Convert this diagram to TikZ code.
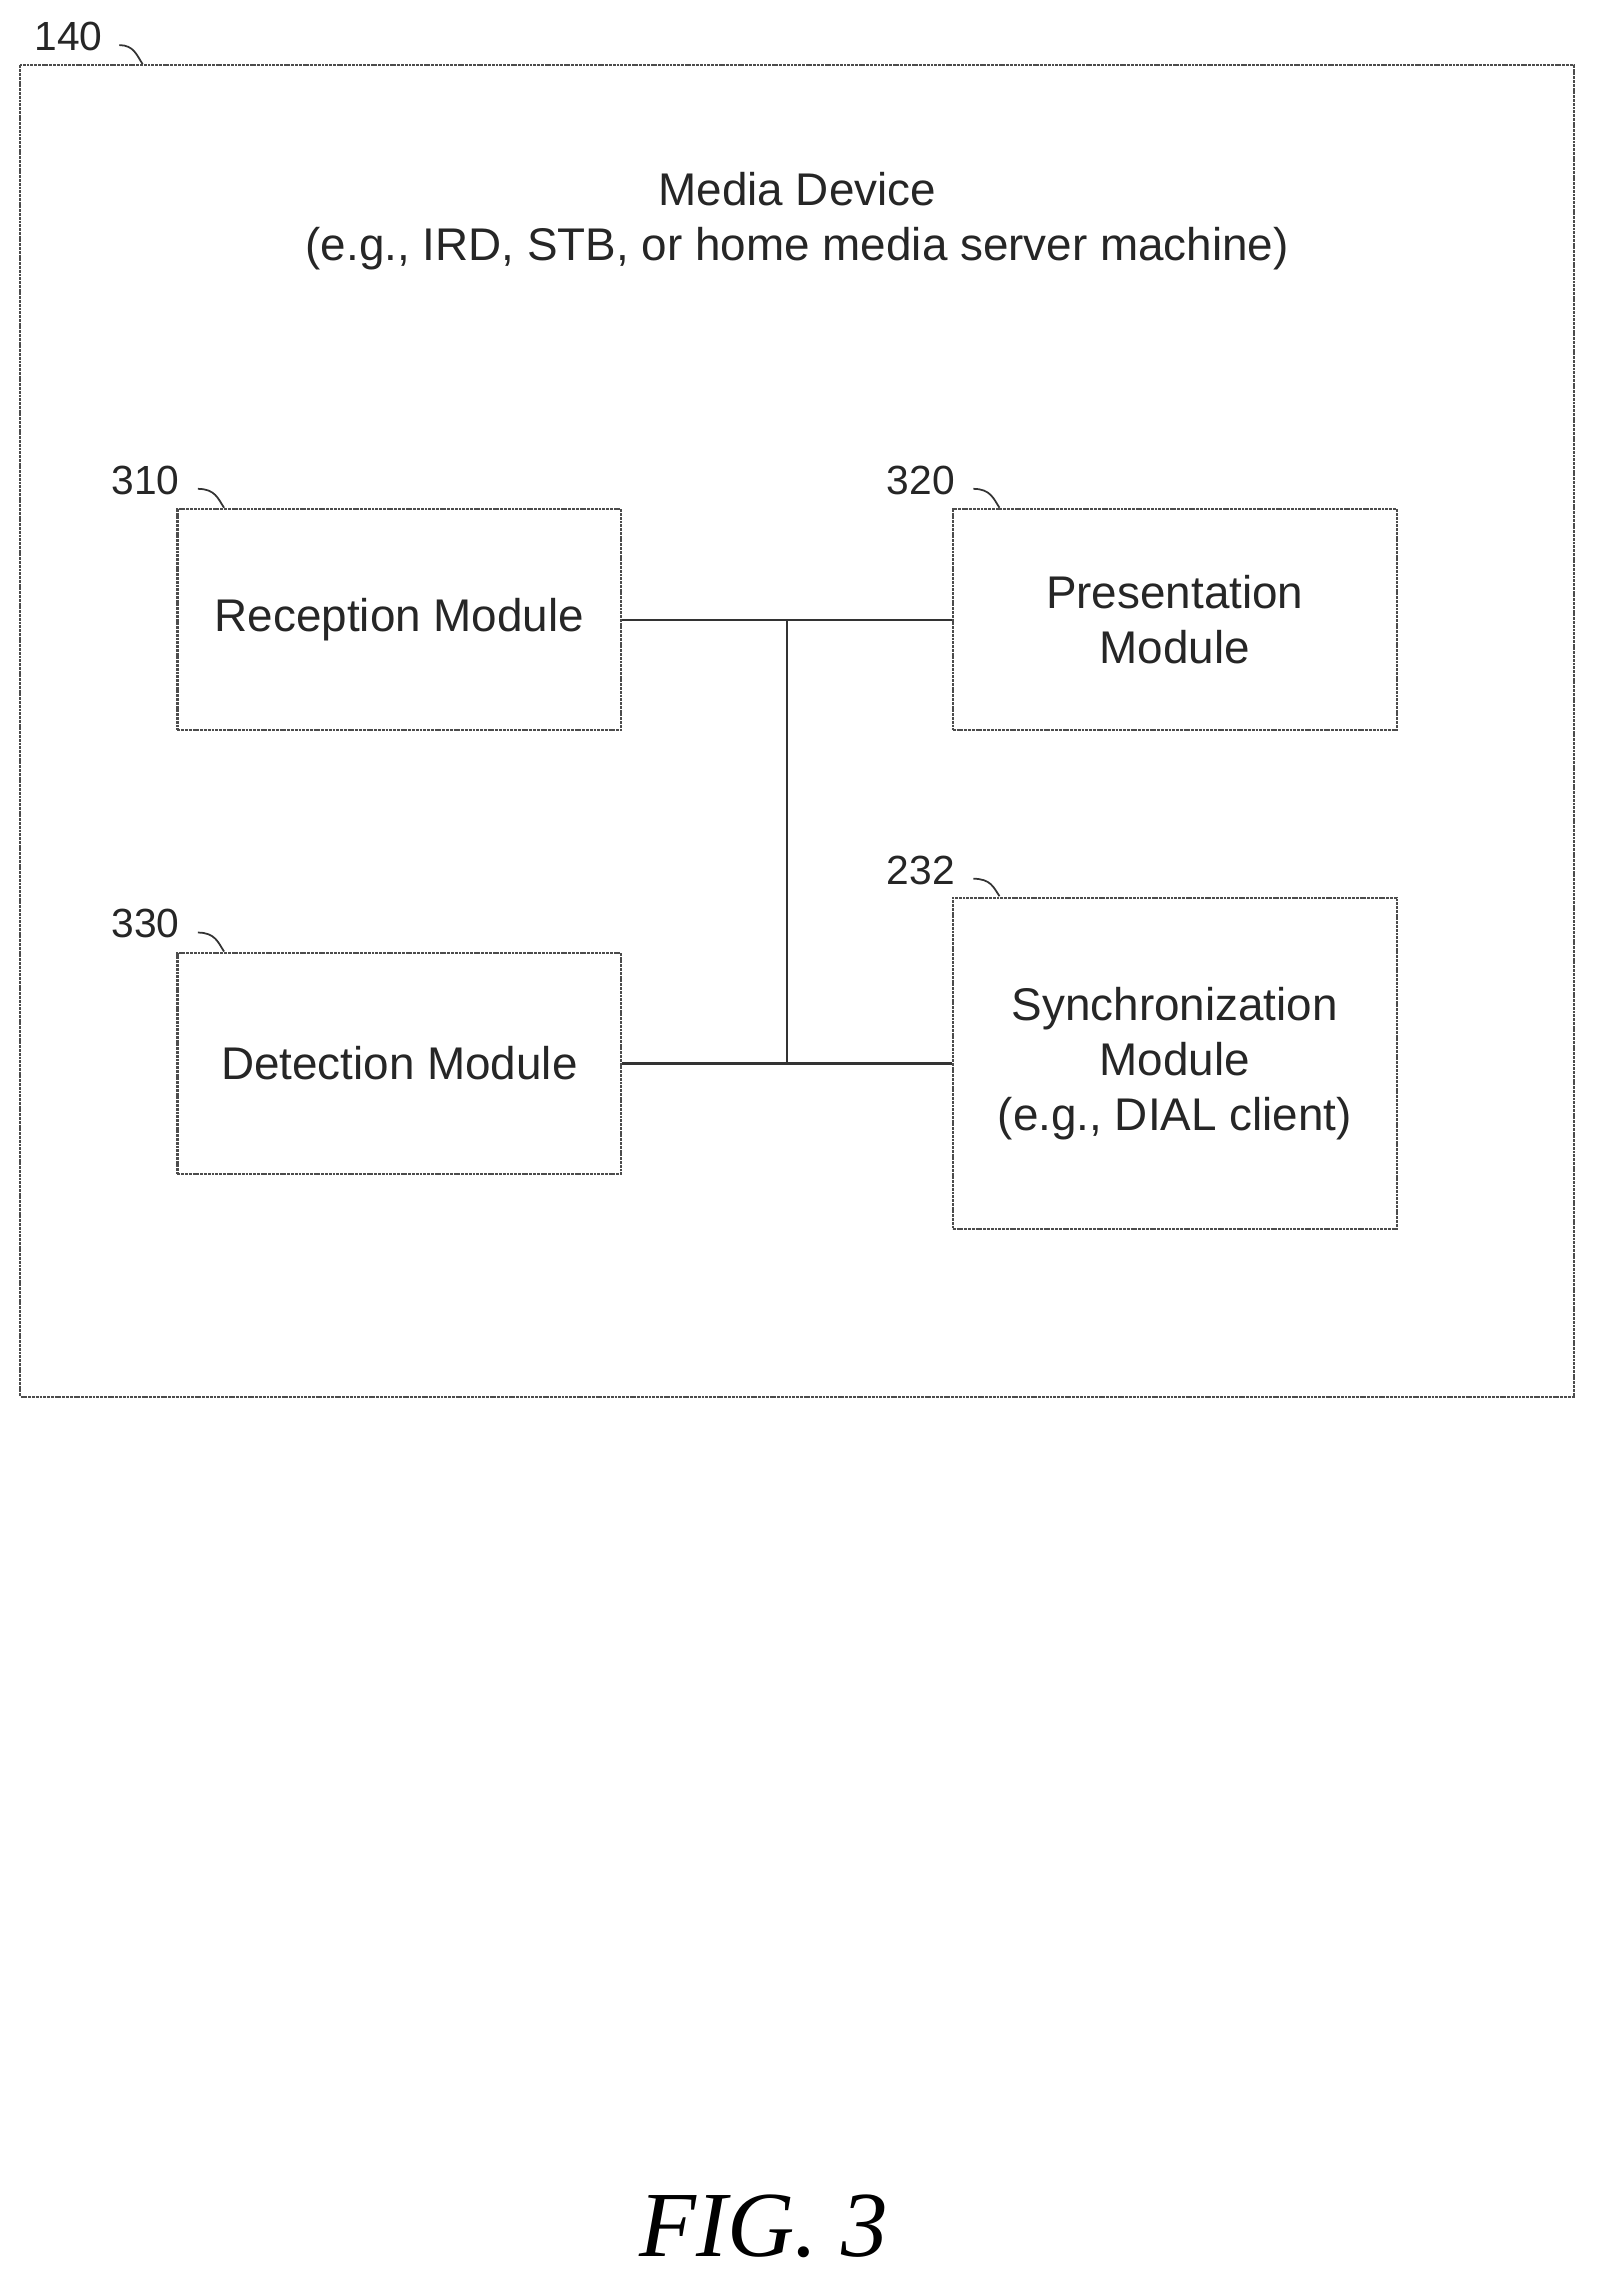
\documentclass[tikz,border=0pt]{standalone}
\usepackage{fontspec}
\setmainfont{Liberation Sans}
\newfontfamily\figfont{Liberation Serif}
\begin{document}
\begin{tikzpicture}[x=1pt,y=-1pt,
  box/.style={draw=black!70,line width=1.4pt,dash pattern=on 2pt off 0.6pt,inner sep=0pt},
  bt/.style={font=\fontsize{31.5}{38}\selectfont,align=center,text=black!85},
  lbl/.style={font=\fontsize{28}{32}\selectfont,text=black!85},
  wire/.style={draw=black!80,line width=1.4pt},
  tick/.style={draw=black!80,line width=1.2pt}]
\useasboundingbox (0,0) rectangle (1100,1572);
\draw[box] (14,45) rectangle (1082,960);
\node[bt] (title) at (548,152) {Media Device\\(e.g., IRD, STB, or home media server machine)};
\node[box,minimum width=305pt,minimum height=152pt] (rec) at (274.5,426) {};
\node[bt] at (rec) {Reception Module};
\node[box,minimum width=305pt,minimum height=152pt] (pres) at (807.5,426) {};
\node[bt] at (pres) {Presentation\\Module};
\node[box,minimum width=305pt,minimum height=152pt] (det) at (274.5,731) {};
\node[bt] at (det) {Detection Module};
\node[box,minimum width=305pt,minimum height=228pt] (sync) at (807.5,731) {};
\node[bt] at (sync) {Synchronization\\Module\\(e.g., DIAL client)};
\coordinate (bt) at (541,426);
\coordinate (bb) at (541,731);
\draw[wire] (rec.east) -- (pres.west);
\draw[wire] (det.east) -- (bb) -- (sync.west);
\draw[wire] (bt) -- (bb);
\node[lbl] (l140) at (47,25) {140};
\node[lbl] (l310) at (100,330) {310};
\node[lbl] (l320) at (633,330) {320};
\node[lbl] (l330) at (100,635) {330};
\node[lbl] (l232) at (633,598) {232};
\draw[tick] (82,31) .. controls (92,31) and (94,38) .. (98,44);
\draw[tick] (136,336) .. controls (148,336) and (150,343) .. (154,349);
\draw[tick] (669,336) .. controls (681,336) and (683,343) .. (687,349);
\draw[tick] (136,641) .. controls (148,641) and (150,648) .. (154,654);
\draw[tick] (669,604) .. controls (681,604) and (683,610) .. (687,616);
\node[font=\figfont\itshape\fontsize{64}{70}\selectfont] (fig) at (525,1530) {FIG. 3};
\end{tikzpicture}
\end{document}
